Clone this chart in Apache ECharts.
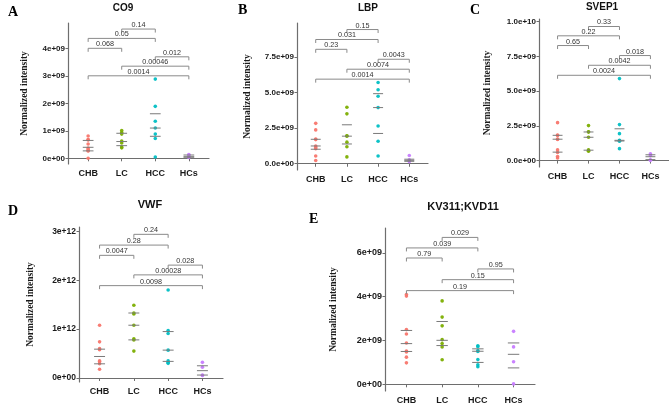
<!DOCTYPE html>
<html><head><meta charset="utf-8">
<script src="https://cdn.jsdelivr.net/npm/echarts@6/dist/echarts.min.js"></script>
<style>html,body{margin:0;padding:0;background:#fff}#c{width:669px;height:405px}</style>
</head><body><div id="c"></div>
<script>
// ---------- DATA ----------
const categories = ['CHB', 'LC', 'HCC', 'HCs'];
const groupColors = ['#F8766D', '#7CAE00', '#00BFC4', '#C77CFF'];

// Panel A: CO9 (units 1e9)
const A_CHB = [0.81, 0.68, 0.67, 0.52, 0.37, 0.30, 0.28, 0.27, 0.0];
const A_LC = [1.01, 0.94, 0.88, 0.63, 0.56, 0.41, 0.38];
const A_HCC = [2.88, 1.89, 1.35, 1.10, 0.88, 0.72, 0.05];
const A_HCs = [0.14, 0.12, 0.05, 0.03];
const A_quartiles = [[0.65, 0.40, 0.27], [0.91, 0.61, 0.46], [1.62, 1.10, 0.80], [0.12, 0.06, 0.02]];
const A_brackets = [[2, 3, 4.70, '0.14'], [1, 3, 4.36, '0.05'], [1, 2, 4.0, '0.068'], [3, 4, 3.69, '0.012'], [2, 4, 3.35, '0.00046'], [1, 4, 3.0, '0.0014']];
const A_ticks = [0, 1, 2, 3, 4];
const A_tickLabels = ['0e+00', '1e+09', '2e+09', '3e+09', '4e+09'];

// Panel B: LBP (units 1e9)
const B_CHB = [2.84, 2.38, 1.74, 1.70, 1.25, 1.15, 1.05, 0.55, 0.23];
const B_LC = [3.97, 3.51, 1.97, 1.94, 1.52, 1.20, 0.48];
const B_HCC = [5.72, 5.20, 4.75, 3.95, 2.65, 1.58, 0.55];
const B_HCs = [0.58, 0.28, 0.20, 0.15];
const B_quartiles = [[1.72, 1.25, 1.02], [2.74, 1.94, 1.39], [4.93, 3.95, 2.13], [0.32, 0.24, 0.17]];
const B_brackets = [[2, 3, 9.44, '0.15'], [1, 3, 8.74, '0.031'], [1, 2, 8.05, '0.23'], [3, 4, 7.35, '0.0043'], [2, 4, 6.65, '0.0074'], [1, 4, 5.95, '0.0014']];
const B_ticks = [0, 2.5, 5, 7.5];
const B_tickLabels = ['0.0e+00', '2.5e+09', '5.0e+09', '7.5e+09'];

// Panel C: SVEP1 (units 1e9)
const C_CHB = [2.73, 1.84, 1.80, 1.55, 1.52, 0.77, 0.58, 0.30, 0.19];
const C_LC = [2.52, 2.08, 2.05, 1.68, 0.77, 0.72, 0.67];
const C_HCC = [5.90, 2.59, 1.94, 1.47, 1.43, 1.40, 0.86];
const C_HCs = [0.49, 0.36, 0.06, 0.02];
const C_quartiles = [[1.82, 1.54, 0.61], [2.06, 1.68, 0.75], [2.29, 1.46, 1.41], [0.42, 0.28, 0.07]];
const C_brackets = [[2, 3, 9.65, '0.33'], [1, 3, 8.98, '0.22'], [1, 2, 8.28, '0.65'], [3, 4, 7.56, '0.018'], [2, 4, 6.86, '0.0042'], [1, 4, 6.14, '0.0024']];
const C_ticks = [0, 2.5, 5, 7.5, 10];
const C_tickLabels = ['0.0e+00', '2.5e+09', '5.0e+09', '7.5e+09', '1.0e+10'];

// Panel D: VWF (units 1e12)
const D_CHB = [1.08, 0.74, 0.60, 0.58, 0.35, 0.33, 0.29, 0.18];
const D_LC = [1.49, 1.33, 1.31, 1.08, 0.80, 0.78, 0.55];
const D_HCC = [1.80, 0.97, 0.91, 0.57, 0.35, 0.32, 0.30];
const D_HCs = [0.32, 0.22, 0.06, 0.05];
const D_quartiles = [[0.59, 0.44, 0.29], [1.33, 1.08, 0.78], [0.95, 0.57, 0.34], [0.25, 0.15, 0.06]];
const D_brackets = [[2, 3, 2.94, '0.24'], [1, 3, 2.72, '0.28'], [1, 2, 2.51, '0.0047'], [3, 4, 2.31, '0.028'], [2, 4, 2.11, '0.00028'], [1, 4, 1.89, '0.0098']];
const D_ticks = [0, 1, 2, 3];
const D_tickLabels = ['0e+00', '1e+12', '2e+12', '3e+12'];

// Panel E: KV311;KVD11 (units 1e9)
const E_CHB = [4.10, 4.03, 2.50, 2.30, 1.89, 1.52, 1.48, 1.24, 0.98];
const E_LC = [3.81, 3.07, 2.67, 2.04, 1.86, 1.71, 1.12];
const E_HCC = [1.76, 1.72, 1.54, 1.50, 1.13, 0.89, 0.80];
const E_HCs = [2.42, 1.71, 1.03, 0.02];
const E_quartiles = [[2.46, 1.86, 1.50], [2.87, 2.01, 1.77], [1.62, 1.51, 1.00], [1.89, 1.37, 0.75]];
const E_brackets = [[2, 3, 6.71, '0.029'], [1, 3, 6.23, '0.039'], [1, 2, 5.77, '0.79'], [3, 4, 5.27, '0.95'], [2, 4, 4.78, '0.15'], [1, 4, 4.28, '0.19']];
const E_ticks = [0, 2, 4, 6];
const E_tickLabels = ['0e+00', '2e+09', '4e+09', '6e+09'];

// ---------- LAYOUT ----------
const panels = [
  { title: 'CO9', letter: 'A', groups: [A_CHB, A_LC, A_HCC, A_HCs], quart: A_quartiles, brackets: A_brackets, ticks: A_ticks, tickLabels: A_tickLabels,
    grid: { left: 68, top: 23, width: 141, height: 141 }, ymin: -0.207, ymax: 4.92, nameGap: 38, tfs: 8, cfs: 9, titleFs: 10, titlePos: [123, 8], letterPos: [8, 12] },
  { title: 'LBP', letter: 'B', groups: [B_CHB, B_LC, B_HCC, B_HCs], quart: B_quartiles, brackets: B_brackets, ticks: B_ticks, tickLabels: B_tickLabels,
    grid: { left: 297, top: 23, width: 131, height: 147 }, ymin: -0.44, ymax: 9.90, nameGap: 44, tfs: 8, cfs: 9, titleFs: 10, titlePos: [368, 8], letterPos: [238, 10] },
  { title: 'SVEP1', letter: 'C', groups: [C_CHB, C_LC, C_HCC, C_HCs], quart: C_quartiles, brackets: C_brackets, ticks: C_ticks, tickLabels: C_tickLabels,
    grid: { left: 539, top: 19, width: 130, height: 148 }, ymin: -0.46, ymax: 10.19, nameGap: 46, tfs: 8, cfs: 9, titleFs: 10, titlePos: [602, 7], letterPos: [470, 10] },
  { title: 'VWF', letter: 'D', groups: [D_CHB, D_LC, D_HCC, D_HCs], quart: D_quartiles, brackets: D_brackets, ticks: D_ticks, tickLabels: D_tickLabels,
    grid: { left: 79, top: 227, width: 144, height: 155 }, ymin: -0.082, ymax: 3.09, nameGap: 43, tfs: 8.5, cfs: 9, titleFs: 11, titlePos: [150, 205], letterPos: [8, 211] },
  { title: 'KV311;KVD11', letter: 'E', groups: [E_CHB, E_LC, E_HCC, E_HCs], quart: E_quartiles, brackets: E_brackets, ticks: E_ticks, tickLabels: E_tickLabels,
    grid: { left: 385, top: 228, width: 150, height: 164 }, ymin: -0.305, ymax: 7.14, nameGap: 46, tfs: 9, cfs: 9, titleFs: 11, titlePos: [463, 207], letterPos: [309, 219] }
];

const axisColor = '#6e6e6e';
const option = { animation: false, grid: [], xAxis: [], yAxis: [], series: [], graphic: [] };

panels.forEach((p, i) => {
  option.grid.push(Object.assign({ containLabel: false }, p.grid));
  option.xAxis.push({
    type: 'value', gridIndex: i, min: 0.4, max: 4.6,
    splitLine: { show: false },
    axisLine: { show: true, lineStyle: { color: axisColor, width: 1.2 } },
    axisTick: { show: true, length: 3, lineStyle: { color: axisColor }, customValues: [1, 2, 3, 4] },
    axisLabel: { customValues: [1, 2, 3, 4], formatter: v => categories[Math.round(v) - 1], color: '#1a1a1a',
      fontFamily: 'Liberation Sans', fontWeight: 'bold', fontSize: p.cfs, margin: 5 }
  });
  option.yAxis.push({
    type: 'value', gridIndex: i, min: p.ymin, max: p.ymax,
    name: 'Normalized intensity', nameLocation: 'middle', nameGap: p.nameGap,
    nameTextStyle: { fontFamily: 'Liberation Serif', fontWeight: 'bold', fontSize: 9.5, color: '#1a1a1a' },
    splitLine: { show: false },
    axisLine: { show: true, lineStyle: { color: axisColor, width: 1.2 } },
    axisTick: { show: true, length: 2.5, lineStyle: { color: axisColor }, customValues: p.ticks },
    axisLabel: { customValues: p.ticks, color: '#1a1a1a', fontFamily: 'Liberation Sans', fontWeight: 'bold', fontSize: p.tfs, margin: 3,
      formatter: v => { let k = 0, d = 1e9; p.ticks.forEach((t, j) => { if (Math.abs(t - v) < d) { d = Math.abs(t - v); k = j; } }); return p.tickLabels[k]; } }
  });
  // points
  p.groups.forEach((g, gi) => {
    option.series.push({
      type: 'scatter', xAxisIndex: i, yAxisIndex: i, symbolSize: 3.6,
      itemStyle: { color: groupColors[gi], opacity: 0.95 },
      data: g.map(v => [gi + 1, v]), z: 2
    });
  });
  // quartile lines
  const qData = [];
  p.quart.forEach((q, gi) => q.forEach(v => qData.push([gi + 1, v])));
  option.series.push({
    type: 'custom', xAxisIndex: i, yAxisIndex: i, z: 3,
    renderItem: (params, api) => {
      const x = api.value(0), y = api.value(1);
      const a = api.coord([x - 0.16, y]), b = api.coord([x + 0.16, y]);
      return { type: 'line', shape: { x1: a[0], y1: a[1], x2: b[0], y2: b[1] }, style: { stroke: '#7a7a7a', lineWidth: 1 } };
    },
    data: qData
  });
  // brackets
  option.series.push({
    type: 'custom', xAxisIndex: i, yAxisIndex: i, z: 3,
    renderItem: (params, api) => {
      const br = p.brackets[params.dataIndex];
      const a = api.coord([br[0], br[2]]), b = api.coord([br[1], br[2]]);
      const t = 3.5;
      return { type: 'group', children: [
        { type: 'polyline', shape: { points: [[a[0], a[1] + t], [a[0], a[1]], [b[0], b[1]], [b[0], b[1] + t]] },
          style: { stroke: '#8a8a8a', lineWidth: 1, fill: null } },
        { type: 'text', style: { text: br[3], x: (a[0] + b[0]) / 2, y: a[1] - 0.5, align: 'center', verticalAlign: 'bottom',
          fontFamily: 'Liberation Sans', fontSize: 7.2, fill: '#333' } }
      ] };
    },
    data: p.brackets.map(br => [br[0], br[1], br[2]])
  });
  option.graphic.push({ type: 'text', left: null, x: p.titlePos[0], y: p.titlePos[1],
    style: { text: p.title, align: 'center', verticalAlign: 'middle', fontFamily: 'Liberation Sans', fontWeight: 'bold', fontSize: p.titleFs, fill: '#111' } });
  option.graphic.push({ type: 'text', x: p.letterPos[0], y: p.letterPos[1],
    style: { text: p.letter, align: 'left', verticalAlign: 'middle', fontFamily: 'Liberation Serif', fontWeight: 'bold', fontSize: 14, fill: '#000' } });
});

const chart = echarts.init(document.getElementById('c'), null, { renderer: 'canvas' });
chart.setOption(option);
</script></body></html>
